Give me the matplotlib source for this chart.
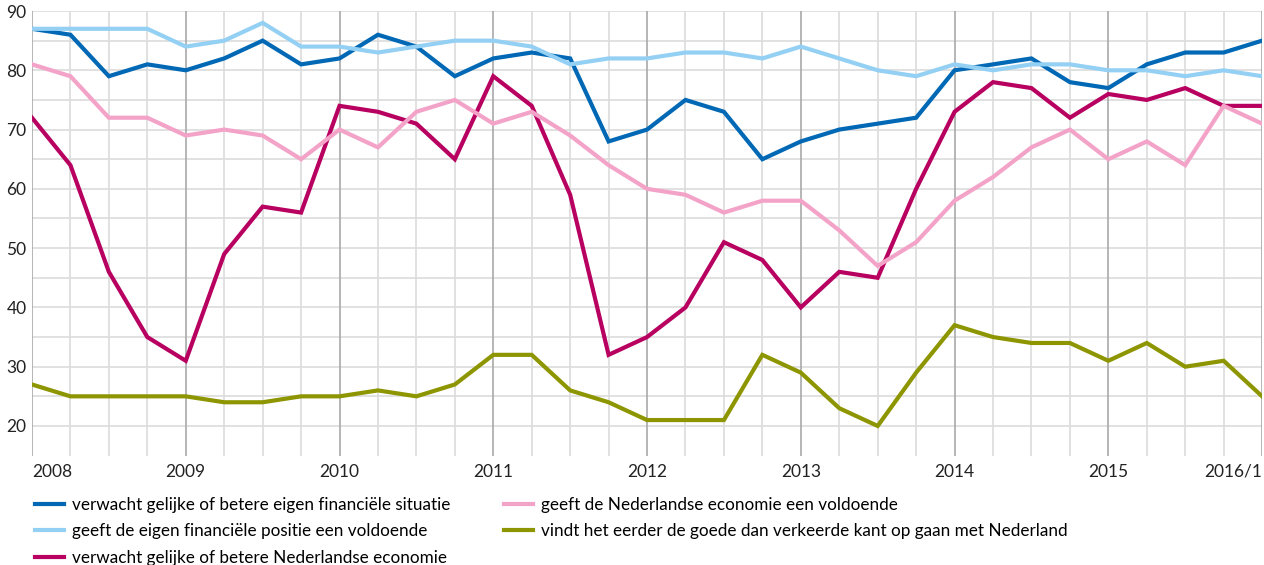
import matplotlib
matplotlib.use("Agg")
import matplotlib.pyplot as plt
import numpy as np

plt.rcParams['font.family'] = ['Lato', 'DejaVu Sans']

# kwartalen 2008/1 t/m 2016/1
quarters = np.arange(33)
year_labels = ['2008', '2009', '2010', '2011', '2012', '2013', '2014', '2015', '2016/1']

eigen_verwacht = [87, 86, 79, 81, 80, 82, 85, 81, 82, 86, 84, 79, 82, 83, 82, 68, 70,
                  75, 73, 65, 68, 70, 71, 72, 80, 81, 82, 78, 77, 81, 83, 83, 85]
eigen_voldoende = [87, 87, 87, 87, 84, 85, 88, 84, 84, 83, 84, 85, 85, 84, 81, 82, 82,
                   83, 83, 82, 84, 82, 80, 79, 81, 80, 81, 81, 80, 80, 79, 80, 79]
nl_verwacht = [72, 64, 46, 35, 31, 49, 57, 56, 74, 73, 71, 65, 79, 74, 59, 32, 35,
               40, 51, 48, 40, 46, 45, 60, 73, 78, 77, 72, 76, 75, 77, 74, 74]
nl_voldoende = [81, 79, 72, 72, 69, 70, 69, 65, 70, 67, 73, 75, 71, 73, 69, 64, 60,
                59, 56, 58, 58, 53, 47, 51, 58, 62, 67, 70, 65, 68, 64, 74, 71]
goede_kant = [27, 25, 25, 25, 25, 24, 24, 25, 25, 26, 25, 27, 32, 32, 26, 24, 21,
              21, 21, 32, 29, 23, 20, 29, 37, 35, 34, 34, 31, 34, 30, 31, 25]

series = [
    (eigen_verwacht, 'verwacht gelijke of betere eigen financiële situatie', '#0068b4'),
    (eigen_voldoende, 'geeft de eigen financiële positie een voldoende', '#94d0f3'),
    (nl_verwacht, 'verwacht gelijke of betere Nederlandse economie', '#b80060'),
    (nl_voldoende, 'geeft de Nederlandse economie een voldoende', '#f4a3c8'),
    (goede_kant, 'vindt het eerder de goede dan verkeerde kant op gaan met Nederland', '#8d9600'),
]

fig = plt.figure(figsize=(12.64, 5.65), dpi=100)
ax = fig.add_axes([0.0253, 0.1936, 0.9732, 0.7869])

# rasterlijnen
for y in range(20, 91, 5):
    ax.axhline(y, color='#dcdcdc', lw=1.2, zorder=0)
for q in quarters:
    if q % 4 == 0:
        ax.axvline(q, color='#a9a9a9', lw=1.2, zorder=0)
    else:
        ax.axvline(q, color='#dcdcdc', lw=1.2, zorder=0)

for vals, label, col in series:
    ax.plot(quarters, vals, color=col, lw=3, label=label, solid_joinstyle='miter', zorder=3)

ax.set_xlim(0, 32)
ax.set_ylim(15, 90)
ax.set_yticks(range(20, 91, 10))
ax.set_xticks(quarters[::4])
ax.set_xticklabels(year_labels)
labels = ax.get_xticklabels()
labels[0].set_ha('left')
labels[-1].set_ha('right')
ax.tick_params(length=0, labelsize=12.5, colors='#222222')
ax.tick_params(axis='x', pad=6)
ax.tick_params(axis='y', pad=4)
for s in ax.spines.values():
    s.set_visible(False)

fig.legend(loc='upper left', bbox_to_anchor=(0.022, 0.133), ncol=2, frameon=False,
           fontsize=12.3, handlelength=1.7, handletextpad=0.5, columnspacing=3.1,
           labelspacing=0.62, borderaxespad=0)

fig.savefig('out.png', dpi=100)
